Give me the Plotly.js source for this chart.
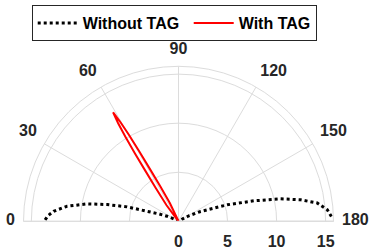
<!DOCTYPE html>
<html><head><meta charset="utf-8">
<script src="https://cdn.plot.ly/plotly-3.0.1.min.js"></script>
<style>html,body{margin:0;padding:0;background:#fff}</style>
</head><body><div id="chart" style="width:374px;height:251px"></div>
<script>
const seriesNames = ["Without TAG", "With TAG"];
const withoutTheta = [0.6, 2.5, 4.6, 7.7, 10.8, 13.2, 15.7, 17.7, 20.5, 23.9, 28, 35, 145, 150, 152, 156, 161.3, 164.8, 167.6, 170, 172.5, 175.6, 178.8];
const withoutR     = [13.6, 13.3, 12.77, 11.46, 9.48, 7.47, 5.44, 3.35, 2.2, 1.26, 0.5, 0, 0, 0.6, 1.2, 2.46, 5.25, 7.96, 10.66, 12.64, 14.27, 15.22, 15.68];
const withTheta = [50, 53.3, 55.6, 56.7, 57.3, 57.85, 58.35, 59, 59.65, 60.15, 60.7, 61.3, 62.4, 64.7, 68];
const withR     = [0, 2.04, 4.08, 6.12, 8.16, 10.2, 11.7, 12.95, 11.7, 10.2, 8.16, 6.12, 4.08, 2.04, 0];
const angularTicks = [0, 30, 60, 90, 120, 150, 180];
const angularLabels = ["0", "30", "60", "90", "120", "150", "180"];
const radialTicks = [0, 5, 10, 15];
const radialLabels = ["0", "5", "10", "15"];
const radialMax = 15.8;

const labelPos = angularTicks.map(t => t === 0 ? 'middle left' : t < 90 ? 'top left' : t === 90 ? 'top center' : t < 180 ? 'top right' : 'middle right');

const W = 374, H = 251;
const cx = 178.5, cy = 221.3, R1 = 155, R2 = 163.5;
function dom(R) {
  return {x:[(cx - R) / W, (cx + R) / W], y:[1 - cy / H, 1 - (cy - R) / H]};
}

const grid = '#dcdcdc';
const txt = '#262626';
const data = [
  {type:'scatterpolar', mode:'lines', name:seriesNames[0], theta:withoutTheta, r:withoutR,
   line:{color:'#000', width:3, dash:'dot'}, legendwidth:101},
  {type:'scatterpolar', mode:'lines', name:seriesNames[1], theta:withTheta, r:withR,
   line:{color:'#ff0000', width:2}},
  {type:'scatterpolar', subplot:'polar2', mode:'text', showlegend:false, hoverinfo:'skip', cliponaxis:false,
   theta:angularTicks, r:angularTicks.map(() => 1), text:angularLabels,
   textposition:labelPos, textfont:{size:16, color:txt, weight:'bold'}}
];
const hiddenAxes = {
  sector:[0,180], bgcolor:'rgba(0,0,0,0)',
  angularaxis:{rotation:180, direction:'clockwise', showticklabels:false, showgrid:false, showline:false, ticks:''},
  radialaxis:{range:[0,1], showticklabels:false, showgrid:false, showline:false, ticks:''}
};
const layout = {
  width:W, height:H,
  margin:{l:0, r:0, t:0, b:0, autoexpand:false},
  paper_bgcolor:'#fff',
  font:{family:'Liberation Sans, Arial, sans-serif', size:16, color:txt, weight:'bold'},
  showlegend:true,
  legend:{orientation:'h', x:0.0848, y:0.98, xanchor:'left', yanchor:'top',
    bordercolor:'#262626', borderwidth:1, bgcolor:'#fff',
    font:{size:16, color:'#000', weight:'bold'}, itemwidth:40},
  polar:{
    domain:dom(R1),
    sector:[0,180],
    bgcolor:'#fff',
    angularaxis:{rotation:180, direction:'clockwise', tickvals:angularTicks, showticklabels:false,
      showgrid:true, gridcolor:grid, gridwidth:1, linecolor:grid, linewidth:1, showline:true,
      ticks:''},
    radialaxis:{range:[0, radialMax], tickvals:radialTicks, ticktext:radialLabels,
      angle:0, side:'clockwise', showgrid:true, gridcolor:grid, gridwidth:1,
      showline:true, linecolor:grid, linewidth:1,
      ticks:'outside', ticklen:6, tickcolor:'rgba(0,0,0,0)',
      tickfont:{size:16, color:txt, weight:'bold'}, tickangle:0}
  },
  polar2:Object.assign({domain:dom(R2)}, hiddenAxes)
};
Plotly.newPlot('chart', data, layout, {staticPlot:true, displayModeBar:false});
</script></body></html>
